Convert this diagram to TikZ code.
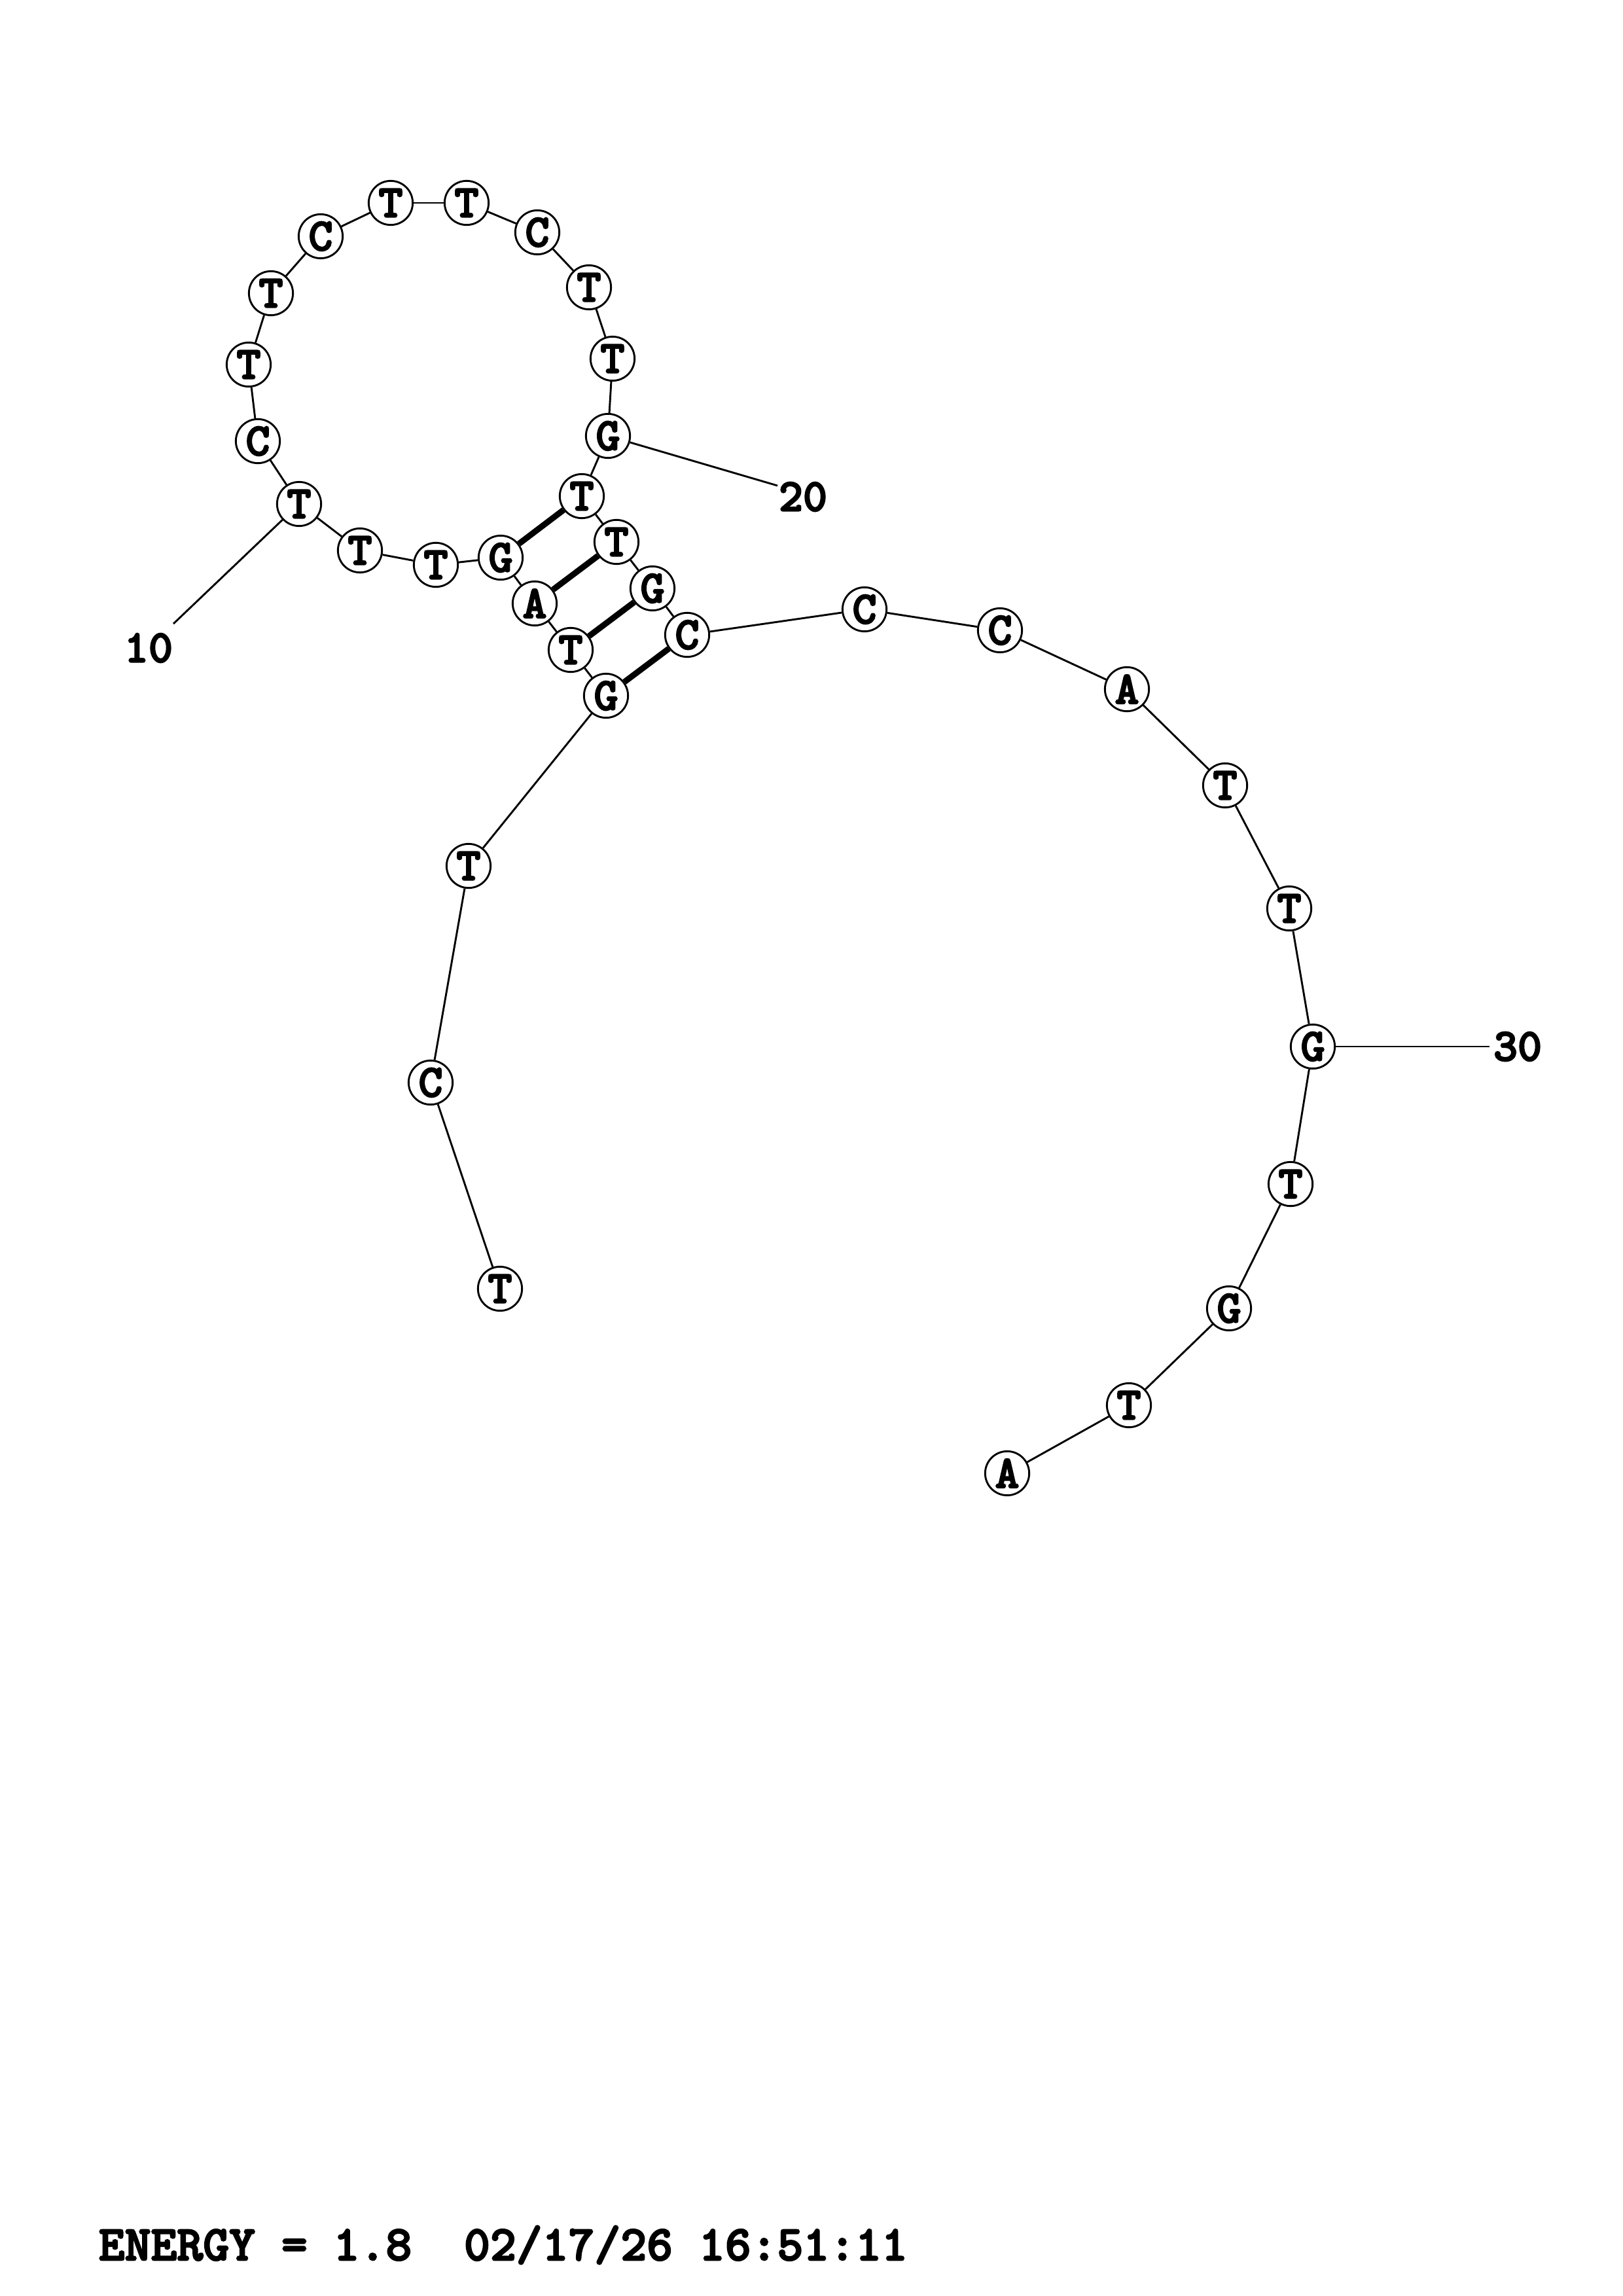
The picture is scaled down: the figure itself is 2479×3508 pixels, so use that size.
\documentclass[tikz,border=0pt]{standalone}
\usepackage{fontspec}
\setmonofont{lmmonolt10-bold.otf}[FakeBold=3]
\begin{document}
\begin{tikzpicture}[x=0.0084712cm,y=-0.0084712cm,
  font=\ttfamily\fontsize{17}{17}\selectfont,
  base/.style={circle,draw,line width=0.7pt,fill=white,inner sep=0pt,minimum size=5.7mm},
  bond/.style={line width=0.7pt},
  pair/.style={line width=2.2pt}]
\useasboundingbox (0,0) rectangle (2479,3508);

\foreach \i/\b/\x/\y in {1/T/764/1969, 2/C/658/1654, 3/T/716/1323, 4/G/926/1063,
  5/T/872/993, 6/A/817/922, 7/G/765/852, 8/T/666/863, 9/T/550/841, 10/T/457/770,
  11/C/394/674, 12/T/380/557, 13/T/414/448, 14/C/490/361, 15/T/597/310,
  16/T/713/310, 17/C/821/355, 18/T/900/439, 19/T/936/548, 20/G/929/666,
  21/T/889/758, 22/T/942/828, 23/G/997/899, 24/C/1050/970, 25/C/1321/931,
  26/C/1528/963, 27/A/1722/1053, 28/T/1872/1200, 29/T/1970/1388, 30/G/2006/1599,
  31/T/1972/1809, 32/G/1878/1999, 33/T/1725/2147, 34/A/1539/2251} {
	\node[base] (n\i) at (\x,\y) {\b};
}

\foreach \i [count=\j from 2] in {1,...,33} {
	\draw[bond] (n\i) -- (n\j);
}
\foreach \a/\b in {4/24, 5/23, 6/22, 7/21} {
	\draw[pair] (n\a) -- (n\b);
}

\node (l10) at (227,990) {10};
\node (l20) at (1227,759) {20};
\node (l30) at (2319,1599) {30};
\coordinate (e10) at (265,953);
\coordinate (e20) at (1188,742);
\coordinate (e30) at (2276,1599);
\draw[bond] (n10) -- (e10);
\draw[bond] (n20) -- (e20);
\draw[bond] (n30) -- (e30);

\node[anchor=west,inner sep=0pt,font=\ttfamily\fontsize{18.3}{18.3}\selectfont] (energy) at (150,3430) {ENERGY = 1.8\ \ 02/17/26 16:51:11};
\end{tikzpicture}
\end{document}
